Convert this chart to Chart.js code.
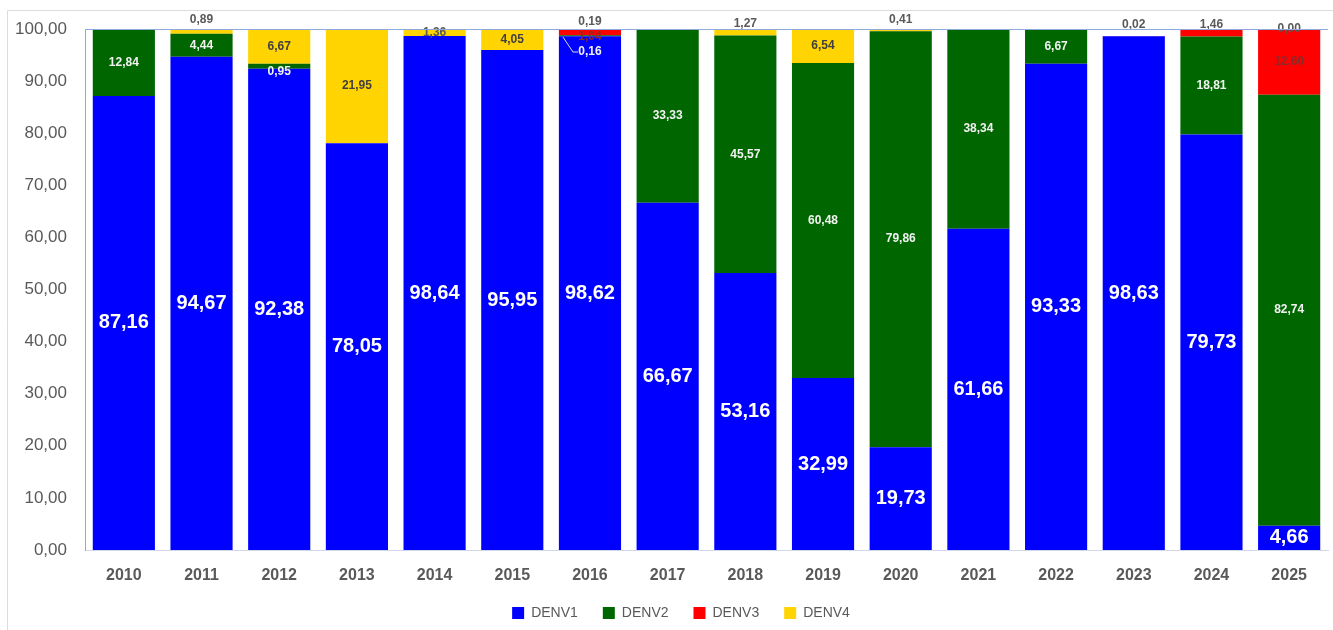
<!DOCTYPE html>
<html>
<head>
<meta charset="utf-8">
<script src="https://cdn.jsdelivr.net/npm/chart.js@4"></script>
<style>
  html,body{margin:0;padding:0;background:#fff;}
  #wrap{width:1333px;height:630px;position:relative;}
</style>
</head>
<body>
<div id="wrap"><canvas id="chart"></canvas></div>
<script>
// serotipos por año (%)
const years = ['2010','2011','2012','2013','2014','2015','2016','2017','2018','2019','2020','2021','2022','2023','2024','2025'];
const denv1 = [87.16,94.67,92.38,78.05,98.64,95.95,98.62,66.67,53.16,32.99,19.73,61.66,93.33,98.63,79.73,4.66];
const denv2 = [12.84,4.44,0.95,0,0,0,0.16,33.33,45.57,60.48,79.86,38.34,6.67,0,18.81,82.74];
const denv3 = [0,0,0,0,0,0,1.04,0,0,0,0,0,0,0.02,1.46,12.60];
const denv4 = [0,0.89,6.67,21.95,1.36,4.05,0.19,0,1.27,6.54,0.41,0,0,0,0,0.00];
const yTicks = [0,10,20,30,40,50,60,70,80,90,100];

const fmt = v => v.toFixed(2).replace('.', ',');
const FONT = "'Liberation Sans', Arial, sans-serif";

// label look per serie
const labelStyle = [
  {color:'#ffffff', font:'bold 20px ' + FONT},
  {color:'#f2f2f2', font:'bold 12px ' + FONT},
  {color:'#8a2a2a', font:'bold 12px ' + FONT},
  {color:'#404040', font:'bold 12px ' + FONT}
];
// small segments: label moved (top = px from plot top, dy = shift from segment middle)
const labelSpots = {
  '2011:3': {top:-9}, '2012:1': {dy:5}, '2014:3': {top:4},
  '2016:3': {top:-7}, '2016:2': {dy:4}, '2016:1': {top:24, leader:true, inside:true},
  '2018:3': {top:-5}, '2020:3': {top:-9}, '2023:2': {top:-4},
  '2024:2': {top:-4}, '2025:3': {top:0}
};

const valueLabels = {
  id:'valueLabels',
  afterDatasetsDraw(chart){
    const ctx = chart.ctx, area = chart.chartArea;
    ctx.save();
    ctx.textAlign = 'center';
    ctx.textBaseline = 'middle';
    chart.data.datasets.forEach((ds, i) => {
      const meta = chart.getDatasetMeta(i);
      meta.data.forEach((bar, j) => {
        const v = ds.data[j];
        const spot = labelSpots[years[j] + ':' + i];
        if (!v && !spot) return;
        let y = (bar.y + bar.base) / 2;
        let color = labelStyle[i].color;
        ctx.font = labelStyle[i].font;
        if (spot && spot.top != null) {
          y = area.top + spot.top;
          if (!spot.inside) color = '#595959';
        } else if (spot && spot.dy) {
          y += spot.dy;
        }
        if (spot && spot.leader) {
          ctx.strokeStyle = '#d8d8f0';
          ctx.lineWidth = 1;
          ctx.beginPath();
          ctx.moveTo(bar.x - 27, area.top + 8);
          ctx.lineTo(bar.x - 17, area.top + 23);
          ctx.lineTo(bar.x - 12, area.top + 23);
          ctx.stroke();
          y = area.top + 23;
        }
        ctx.fillStyle = color;
        ctx.fillText(fmt(v), bar.x, y);
      });
    });
    ctx.restore();
  }
};

const frame = {
  id:'frame',
  beforeDraw(chart){
    const ctx = chart.ctx;
    ctx.save();
    ctx.fillStyle = '#fff';
    ctx.fillRect(0, 0, chart.width, chart.height);
    ctx.strokeStyle = '#dcdcdc';
    ctx.lineWidth = 1;
    ctx.beginPath();
    ctx.moveTo(1333, 10.5); ctx.lineTo(7.5, 10.5); ctx.lineTo(7.5, 630);
    ctx.stroke();
    ctx.restore();
  },
  afterLayout(chart){
    // legend sits a bit right of centre in the original
    chart.legend.left += 17;
    chart.legend.right += 17;
  },
  afterDraw(chart){
    const ctx = chart.ctx, a = chart.chartArea;
    ctx.save();
    ctx.strokeStyle = '#8ea9db';
    ctx.lineWidth = 1;
    ctx.beginPath();
    ctx.moveTo(a.left, a.top + 0.5); ctx.lineTo(a.right, a.top + 0.5);
    ctx.stroke();
    ctx.restore();
  }
};

new Chart(document.getElementById('chart'), {
  type:'bar',
  data:{
    labels: years,
    datasets:[
      {label:'DENV1', data:denv1, backgroundColor:'#0000ff'},
      {label:'DENV2', data:denv2, backgroundColor:'#006600'},
      {label:'DENV3', data:denv3, backgroundColor:'#ff0000'},
      {label:'DENV4', data:denv4, backgroundColor:'#ffd400'}
    ]
  },
  options:{
    responsive:true,
    maintainAspectRatio:false,
    animation:false,
    datasets:{bar:{barPercentage:0.8, categoryPercentage:1, borderWidth:0}},
    layout:{padding:{top:29, right:5, left:0, bottom:0}},
    scales:{
      x:{
        stacked:true,
        grid:{display:false, drawTicks:false},
        border:{display:true, color:'#d0d8ea'},
        ticks:{color:'#595959', font:{family:FONT, size:16, weight:'bold'}, padding:16},
        afterFit(s){ s.height = 31; }
      },
      y:{
        stacked:true, min:0, max:100,
        afterBuildTicks(s){ s.ticks = yTicks.map(v => ({value:v})); },
        grid:{display:false, drawTicks:false},
        border:{display:true, color:'#8ea9db'},
        ticks:{color:'#595959', font:{family:FONT, size:17}, padding:18, callback:v => fmt(v)},
        afterFit(s){ s.width = 85; }
      }
    },
    plugins:{
      legend:{
        position:'bottom',
        labels:{color:'#595959', font:{family:FONT, size:14}, boxWidth:12, boxHeight:12, padding:25}
      },
      tooltip:{enabled:false}
    }
  },
  plugins:[valueLabels, frame]
});
</script>
</body>
</html>
